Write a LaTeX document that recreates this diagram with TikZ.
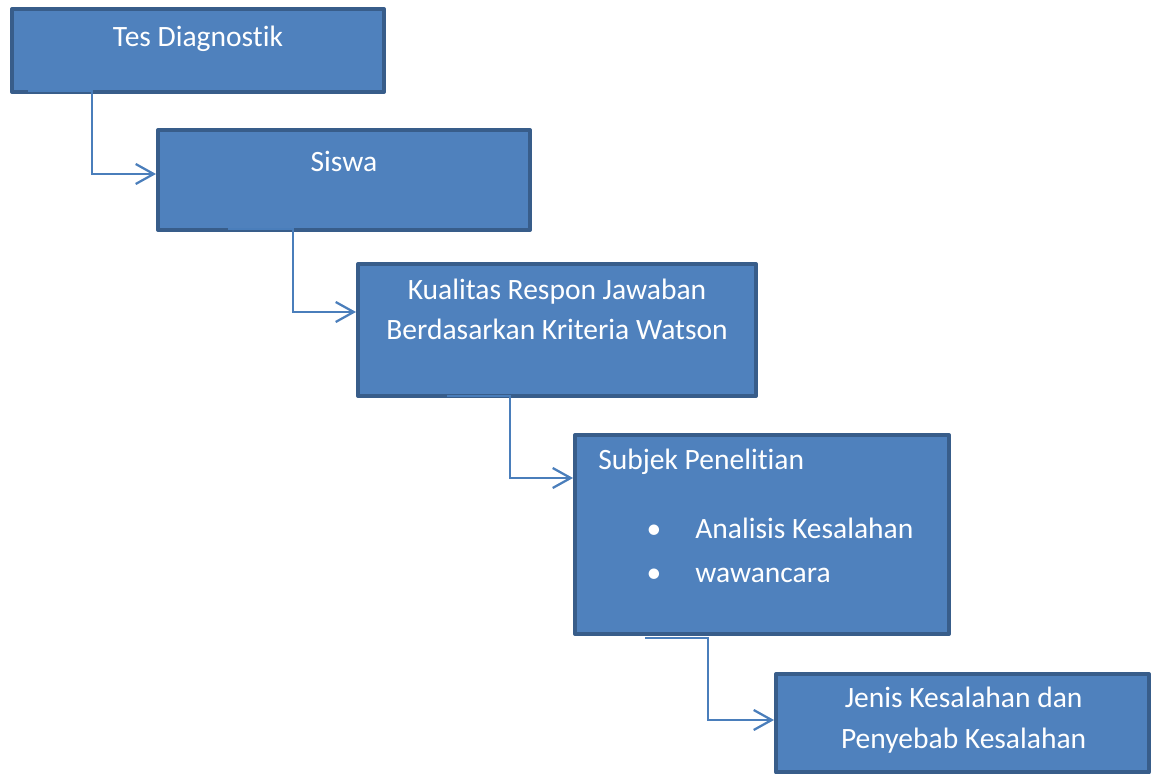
\documentclass[tikz,border=0pt]{standalone}
\usepackage{fontspec}
\setmainfont[Ligatures=NoCommon]{Carlito}
\usetikzlibrary{calc}
\usetikzlibrary{arrows.meta}
\definecolor{isi}{HTML}{4F81BD}
\definecolor{tepi}{HTML}{385D8A}
\definecolor{garis}{HTML}{4A7EBB}
\tikzset{
	kotak/.style={draw=tepi,fill=isi,line width=2.85pt,line join=round,inner sep=0pt},
	teks/.style={text=white,font=\fontsize{21pt}{28.5pt}\selectfont,inner sep=0pt},
	panah/.style={draw=garis,line width=1.6pt,-{Straight Barb[length=4.5mm,width=5mm]}}
}

\begin{document}
\begin{tikzpicture}
	\useasboundingbox (0,0) rectangle (28.975,-19.35);
	% the boxes, from top left down to bottom right
	\node[kotak,minimum width=9.3cm,minimum height=2.075cm] (tes) at (4.95,-1.2625) {};
	\node[kotak,minimum width=9.3cm,minimum height=2.5cm] (siswa) at (8.6,-4.5) {};
	\node[kotak,minimum width=9.95cm,minimum height=3.3cm] (kualitas) at (13.925,-8.25) {};
	\node[kotak,minimum width=9.35cm,minimum height=4.975cm] (subjek) at (19.05,-13.3625) {};
	\node[kotak,minimum width=9.325cm,minimum height=2.4625cm] (jenis) at (24.0625,-18.08) {};
	% texts, sitting in the upper part of each box
	% (base of a two line node is the base of its last line)
	\node[teks,anchor=base] (tTes) at (4.95,-1.175) {Tes Diagnostik};
	\node[teks,anchor=base] (tSiswa) at (8.6,-4.3) {Siswa};
	\node[teks,anchor=base,align=center] (tKualitas) at (13.925,-8.5) {Kualitas Respon Jawaban\\Berdasarkan Kriteria Watson};
	\node[teks,anchor=base west] (tSubjek) at (14.95,-11.75) {Subjek Penelitian};
	\node[teks,anchor=base] (b1) at (16.35,-13.475) {•};% first bullet
	\node[teks,anchor=base west] (tAnalisis) at (17.375,-13.475) {Analisis Kesalahan};
	\node[teks,anchor=base] (b2) at (16.35,-14.55) {•};% second bullet
	\node[teks,anchor=base west] (tWawancara) at (17.375,-14.55) {wawancara};
	\node[teks,anchor=base,align=center] (tJenis) at (24.09,-18.7) {Jenis Kesalahan dan\\Penyebab Kesalahan};
	% elbow connectors: start on the bottom edge, bend down, then go right into the next box
	\coordinate (m1) at (0.7,-2.275);
	\coordinate (k1) at (2.3,-4.35);
	\draw[panah] (m1) -| (k1) -- (k1 -| siswa.west);
	\coordinate (m2) at (5.7,-5.725);
	\coordinate (k2) at (7.325,-7.8);
	\draw[panah] (m2) -| (k2) -- (k2 -| kualitas.west);
	\coordinate (m3) at (11.175,-9.9);
	\coordinate (k3) at (12.75,-11.95);
	\draw[panah] (m3) -| (k3) -- (k3 -| subjek.west);
	\coordinate (m4) at (16.125,-15.95);
	\coordinate (k4) at (17.7,-18.0);
	\draw[panah] (m4) -| (k4) -- (k4 -| jenis.west);
\end{tikzpicture}
\end{document}
